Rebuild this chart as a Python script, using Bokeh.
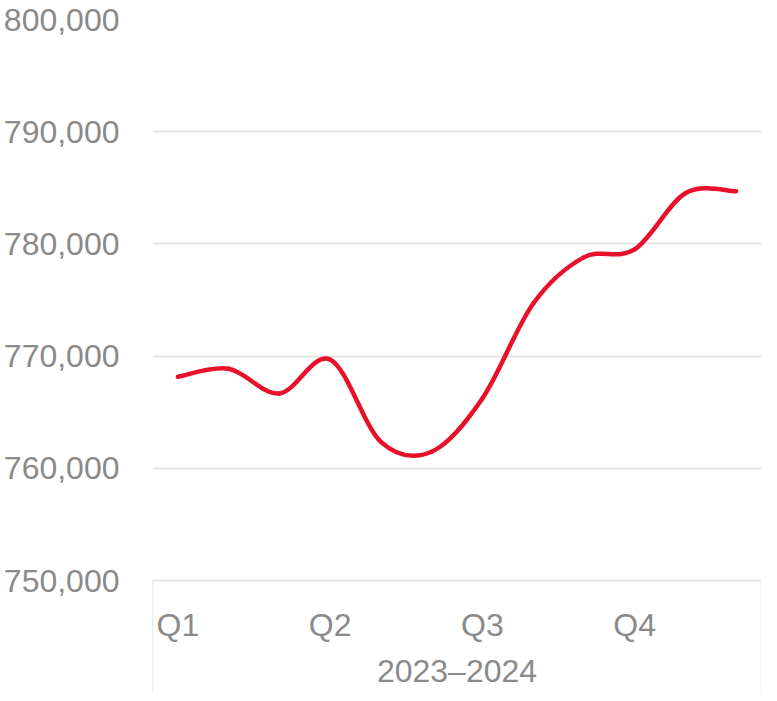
import numpy as np
from bokeh.plotting import figure
from bokeh.models import Range1d, FixedTicker, NumeralTickFormatter, Label
from bokeh.core.properties import value
from bokeh.embed import file_html
from bokeh.resources import INLINE

# ---- data ----
periods = ["M1", "M2", "M3", "M4", "M5", "M6", "M7", "M8", "M9", "M10", "M11", "M12"]
values = [768160, 768870, 766670, 769700, 762360, 761480,
          766230, 774670, 778800, 779510, 784520, 784700]
quarter_labels = ["Q1", "Q2", "Q3", "Q4"]
quarter_positions = [0, 3, 6, 9]
group_label = "2023\u20132024"
y_ticks = [750000, 760000, 770000, 780000, 790000, 800000]

GRAY = "#8a8a8a"
GRID = "#dedede"
RED = "#E8112B"
FONT = "Liberation Sans"

# ---- layout (pixels) ----
W, H = 761, 693
TOP, LEFT, RIGHT = 19, 142, 0
AXIS_PX = 113            # category-axis area below the 750,000 line
plot_px = H - TOP - AXIS_PX
units_per_px = (y_ticks[-1] - y_ticks[0]) / plot_px
y_start = y_ticks[0] - AXIS_PX * units_per_px

p = figure(width=W, height=H, output_backend="svg", toolbar_location=None,
           x_axis_location=None,
           x_range=Range1d(-0.5, len(periods) - 0.5),
           y_range=Range1d(y_start, y_ticks[-1]),
           min_border_left=LEFT, min_border_top=TOP, min_border_bottom=0,
           min_border_right=RIGHT)
p.outline_line_color = None
p.background_fill_color = "white"
p.border_fill_color = "white"

# grid
p.xgrid.visible = False
p.ygrid.ticker = FixedTicker(ticks=y_ticks)
p.ygrid.grid_line_color = GRID
p.ygrid.grid_line_width = 1.3

# category axis box: vertical separators at both ends below the plot
n = len(periods)
p.segment(x0=[-0.5, n - 0.5], y0=[y_ticks[0]] * 2,
          x1=[-0.5, n - 0.5], y1=[y_start] * 2,
          line_color=GRID, line_width=1.5)

# quarter labels
p.text(x=quarter_positions, y=[y_ticks[0]] * len(quarter_positions),
       text=quarter_labels, y_offset=44, text_align="center",
       text_baseline="alphabetic", text_font=value(FONT),
       text_font_size="32px", text_color=GRAY)

# group label (annotation, not clipped to the plot frame)
p.add_layout(Label(x=(n - 1) / 2, y=y_ticks[0], x_units="data", y_units="data",
                   y_offset=-90, text=group_label, text_align="center",
                   text_baseline="alphabetic", text_font=FONT,
                   text_font_size="32px", text_color=GRAY))

# smooth curve (Catmull-Rom style Bezier segments through the data points)
x = np.arange(len(values), dtype=float)
y = np.array(values, dtype=float)
xp = np.concatenate([[x[0]], x, [x[-1]]])
yp = np.concatenate([[y[0]], y, [y[-1]]])
m = len(x)
x0 = x[:-1]; y0 = y[:-1]; x1 = x[1:]; y1 = y[1:]
cx0 = x0 + (xp[2:m + 1] - xp[0:m - 1]) / 6.0
cy0 = y0 + (yp[2:m + 1] - yp[0:m - 1]) / 6.0
cx1 = x1 - (xp[3:m + 2] - xp[1:m]) / 6.0
cy1 = y1 - (yp[3:m + 2] - yp[1:m]) / 6.0
p.bezier(x0=x0, y0=y0, x1=x1, y1=y1, cx0=cx0, cy0=cy0, cx1=cx1, cy1=cy1,
         line_color=RED, line_width=4.5, line_cap="round")

# y axis
yax = p.yaxis[0]
yax.ticker = FixedTicker(ticks=y_ticks)
yax.formatter = NumeralTickFormatter(format="0,0")
yax.axis_line_color = None
yax.major_tick_line_color = None
yax.minor_tick_line_color = None
yax.major_label_text_font = FONT
yax.major_label_text_font_size = "32px"
yax.major_label_text_color = GRAY
yax.major_label_standoff = 27

open("out.html", "w").write(file_html(p, INLINE))
